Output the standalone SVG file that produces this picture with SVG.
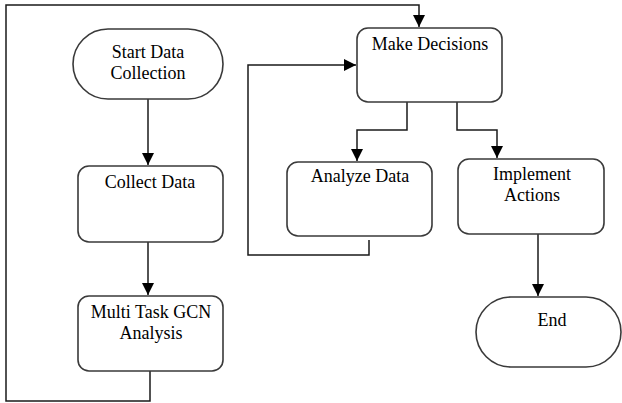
<svg xmlns="http://www.w3.org/2000/svg" width="622" height="403" viewBox="0 0 622 403">
<style>
.box{fill:#fff;stroke:#3a3a3a;stroke-width:1.6}
text{font-family:"Liberation Serif",serif;font-size:18px;fill:#000;text-anchor:middle}
.ln{fill:none;stroke:#1a1a1a;stroke-width:1.5}
</style>
<defs>
<marker id="ah" markerWidth="12" markerHeight="12" refX="12" refY="6" orient="auto" markerUnits="userSpaceOnUse">
<path d="M0,0 L12,6 L0,12 z" fill="#000"/>
</marker>
</defs>
<g id="connectors">
<path class="ln" d="M148,99 V165" marker-end="url(#ah)"/>
<path class="ln" d="M148,242 V295" marker-end="url(#ah)"/>
<path class="ln" d="M150,371 V401 H6 V5 H419 V27" marker-end="url(#ah)"/>
<path class="ln" d="M369,240 V255 H248 V65 H356" marker-end="url(#ah)"/>
<path class="ln" d="M407,102 V130 H357 V161" marker-end="url(#ah)"/>
<path class="ln" d="M457,102 V130 H497 V158" marker-end="url(#ah)"/>
<path class="ln" d="M538,234 V296" marker-end="url(#ah)"/>
</g>
<g id="start">
<rect class="box" x="73" y="29" width="150" height="70" rx="35"/>
<text x="148" y="58" font-family="Liberation Serif">Start Data</text>
<text x="148" y="79" font-family="Liberation Serif">Collection</text>
</g>
<g id="collect">
<rect class="box" x="78" y="166" width="145" height="76" rx="11"/>
<text x="150" y="188" font-family="Liberation Serif">Collect Data</text>
</g>
<g id="multi">
<rect class="box" x="78" y="296" width="145" height="75" rx="11"/>
<text x="151" y="318" font-family="Liberation Serif">Multi Task GCN</text>
<text x="151" y="339" font-family="Liberation Serif">Analysis</text>
</g>
<g id="decisions">
<rect class="box" x="357" y="28" width="145" height="74" rx="11"/>
<text x="430" y="50" font-family="Liberation Serif">Make Decisions</text>
</g>
<g id="analyze">
<rect class="box" x="287" y="162" width="145" height="74" rx="11"/>
<text x="360" y="182" font-family="Liberation Serif">Analyze Data</text>
</g>
<g id="implement">
<rect class="box" x="458" y="159" width="146" height="75" rx="11"/>
<text x="532" y="180" font-family="Liberation Serif">Implement</text>
<text x="532" y="201" font-family="Liberation Serif">Actions</text>
</g>
<g id="end">
<rect class="box" x="476" y="297" width="145" height="70" rx="35"/>
<text x="552" y="326" font-family="Liberation Serif">End</text>
</g>
</svg>
